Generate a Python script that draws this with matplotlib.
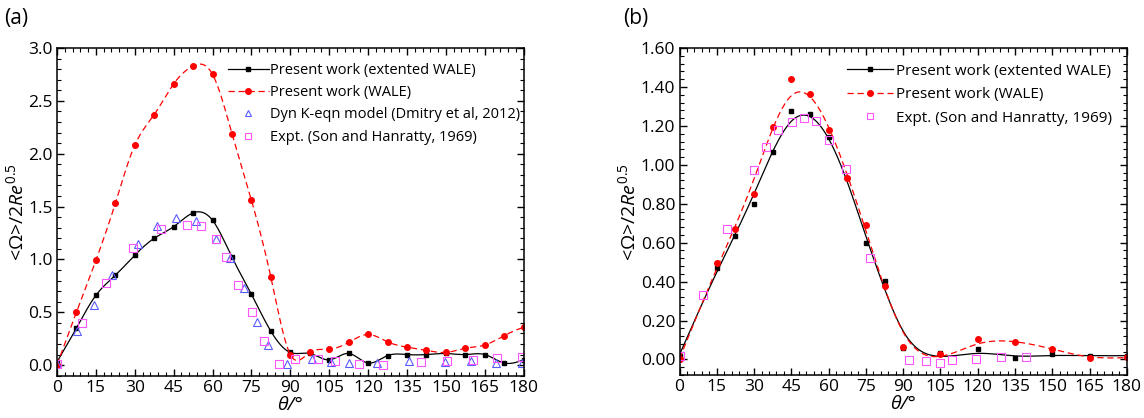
import matplotlib

matplotlib.use("Agg")

import matplotlib.pyplot as plt
import numpy as np
from matplotlib.ticker import MultipleLocator, FormatStrFormatter

plt.rcParams["font.family"] = ["Open Sans", "DejaVu Sans"]
plt.rcParams["mathtext.fontset"] = "custom"
plt.rcParams["mathtext.rm"] = "Open Sans"
plt.rcParams["mathtext.it"] = "Open Sans:italic"

# ---- panel (a) data ----
theta_a = [0, 7.5, 15, 22.5, 30, 37.5, 45, 52.5, 60, 67.5, 75, 82.5, 90,
           97.5, 105, 112.5, 120, 127.5, 135, 142.5, 150, 157.5, 165, 172.5, 180]
ext_wale_a = [0.03, 0.35, 0.66, 0.85, 1.04, 1.20, 1.31, 1.44, 1.37, 1.02, 0.67, 0.32, 0.12,
              0.11, 0.05, 0.11, 0.02, 0.09, 0.10, 0.10, 0.11, 0.10, 0.10, 0.02, 0.05]
wale_a = [0.0, 0.50, 0.99, 1.53, 2.08, 2.37, 2.66, 2.83, 2.75, 2.19, 1.56, 0.83, 0.10,
          0.12, 0.15, 0.215, 0.29, 0.22, 0.17, 0.14, 0.12, 0.16, 0.19, 0.28, 0.36]

dyn_theta = [0, 7.6, 14.4, 21.1, 31.1, 38.6, 45.8, 53.8, 61.5, 66.6, 72.0, 77.1, 81.5,
             88.9, 98.4, 105.5, 112.6, 123.3, 135.7, 149.5, 159.8, 169.5, 179.3]
dyn_val = [0.01, 0.32, 0.57, 0.85, 1.15, 1.32, 1.39, 1.36, 1.19, 1.01, 0.73, 0.41, 0.19,
           0.01, 0.06, 0.03, 0.02, 0.02, 0.04, 0.03, 0.035, 0.02, 0.02]

expt_theta_a = [0, 9.5, 18.9, 29.4, 40.0, 50.3, 55.4, 61.5, 65.3, 70.0, 75.1, 80.0, 85.7,
                91.9, 100.5, 107.4, 116.3, 125.7, 140.5, 150.6, 160.3, 169.8, 179.3]
expt_val_a = [0.01, 0.40, 0.78, 1.11, 1.29, 1.33, 1.32, 1.19, 1.02, 0.76, 0.50, 0.23, 0.01,
              0.06, 0.06, 0.04, 0.01, 0.0, 0.03, 0.04, 0.05, 0.07, 0.08]

# ---- panel (b) data ----
theta_b = [0, 15, 22.5, 30, 37.5, 45, 52.5, 60, 67.5, 75, 82.5, 90,
           105, 120, 135, 150, 165, 180]
ext_wale_b = [0.02, 0.47, 0.635, 0.80, 1.065, 1.278, 1.26, 1.145, 0.93, 0.60, 0.405, 0.06,
              0.035, 0.052, 0.005, 0.026, 0.017, 0.02]
wale_b = [0.0, 0.494, 0.672, 0.849, 1.197, 1.442, 1.364, 1.18, 0.935, 0.689, 0.375, 0.065,
          0.026, 0.103, 0.089, 0.055, 0.005, 0.013]

expt_theta_b = [0, 9.3, 19.0, 30.1, 34.8, 39.7, 45.1, 50.1, 54.9, 60.0, 66.9, 76.8,
                92.3, 99.1, 104.7, 109.5, 119.2, 129.5, 139.5]
expt_val_b = [0.02, 0.33, 0.67, 0.973, 1.094, 1.18, 1.22, 1.243, 1.226, 1.128, 0.978, 0.52,
              -0.004, -0.01, -0.02, -0.004, 0.003, 0.015, 0.015]


def smooth(x, y, lam, n=721):
    # penalised spline on a fine grid (small lam ~ interpolating)
    x = np.asarray(x, float)
    y = np.asarray(y, float)
    xs = np.linspace(x.min(), x.max(), n)
    B = np.zeros((len(x), n))
    for i, xi in enumerate(x):
        j = min(np.searchsorted(xs, xi, side="right") - 1, n - 2)
        w = (xi - xs[j]) / (xs[j + 1] - xs[j])
        B[i, j] = 1 - w
        B[i, j + 1] = w
    D = np.diff(np.eye(n), 2, axis=0)
    A = B.T @ B + lam * D.T @ D
    return xs, np.linalg.solve(A, B.T @ y)


fig = plt.figure(figsize=(11.44, 4.18), dpi=100)
ax1 = fig.add_axes([0.0498, 0.1012, 0.408, 0.784])
ax2 = fig.add_axes([0.594, 0.1029, 0.391, 0.782])

blue = "#5a5aff"
pink = "#ff55ff"


def style_axis(ax):
    for s in ax.spines.values():
        s.set_linewidth(1.1)
    ax.tick_params(which="both", direction="in", top=True, right=True, labelsize=12.5)
    ax.tick_params(which="major", length=5, width=1.0, pad=3)
    ax.tick_params(which="minor", length=3, width=0.8)
    ax.set_xlim(0, 180)
    ax.xaxis.set_major_locator(MultipleLocator(15))
    ax.xaxis.set_minor_locator(MultipleLocator(3))
    ax.set_xlabel("θ/°", style="italic", fontsize=14, labelpad=0)
    ax.set_ylabel(r"<Ω>/$\mathit{2Re}^{\mathit{0.5}}$", fontsize=14, labelpad=1)


# panel (a)
xs, ys = smooth(theta_a, ext_wale_a, 1e-3)
ax1.plot(xs, ys, color="black", lw=0.9)
ax1.plot(theta_a, ext_wale_a, "s", color="black", ms=3.5, ls="none")
xs, ys = smooth(theta_a, wale_a, 1e-3)
ax1.plot(xs, ys, color="red", lw=0.9, ls=(0, (5, 3)))
ax1.plot(theta_a, wale_a, "o", color="red", ms=4, ls="none")
ax1.plot(dyn_theta, dyn_val, "^", mfc="none", mec=blue, ms=6, mew=0.8, ls="none")
ax1.plot(expt_theta_a, expt_val_a, "s", mfc="none", mec=pink, ms=5.5, mew=0.8, ls="none")

h1 = [
    plt.Line2D([], [], color="black", lw=0.9, marker="s", ms=3.5),
    plt.Line2D([], [], color="red", lw=0.9, ls=(0, (5, 3)), marker="o", ms=4),
    plt.Line2D([], [], ls="none", marker="^", mfc="none", mec=blue, ms=5, mew=0.8),
    plt.Line2D([], [], ls="none", marker="s", mfc="none", mec=pink, ms=4.5, mew=0.8),
]
l1 = ["Present work (extented WALE)", "Present work (WALE)",
      "Dyn K-eqn model (Dmitry et al, 2012)", "Expt. (Son and Hanratty, 1969)"]
ax1.legend(h1, l1, loc="upper left", bbox_to_anchor=(0.366, 0.955), frameon=False,
           fontsize=10.5, handlelength=2.8, handletextpad=0.1, borderpad=0,
           borderaxespad=0, labelspacing=0.5)

style_axis(ax1)
ax1.set_ylim(-0.1, 3.0)
ax1.yaxis.set_major_locator(MultipleLocator(0.5))
ax1.yaxis.set_minor_locator(MultipleLocator(0.1))
ax1.yaxis.set_major_formatter(FormatStrFormatter("%.1f"))
fig.text(0.004, 0.955, "(a)", fontsize=15, va="center")

# panel (b) - smoothed fits
xs, ys = smooth(theta_b, ext_wale_b, 1.5e4)
ax2.plot(xs, ys, color="black", lw=0.9)
ax2.plot(theta_b, ext_wale_b, "s", color="black", ms=3.5, ls="none")
xs, ys = smooth(theta_b, wale_b, 1.5e4)
ax2.plot(xs, ys, color="red", lw=0.9, ls=(0, (5, 3)))
ax2.plot(theta_b, wale_b, "o", color="red", ms=4, ls="none")
ax2.plot(expt_theta_b, expt_val_b, "s", mfc="none", mec=pink, ms=5.5, mew=0.8, ls="none")

h2 = [h1[0], h1[1], h1[3]]
l2 = [l1[0], l1[1], l1[3]]
ax2.legend(h2, l2, loc="upper left", bbox_to_anchor=(0.375, 0.952), frameon=False,
           fontsize=11, handlelength=3.0, handletextpad=0.2, borderpad=0,
           borderaxespad=0, labelspacing=0.55)

style_axis(ax2)
ax2.set_ylim(-0.08, 1.6)
ax2.yaxis.set_major_locator(MultipleLocator(0.2))
ax2.yaxis.set_minor_locator(MultipleLocator(0.04))
ax2.yaxis.set_major_formatter(FormatStrFormatter("%.2f"))
fig.text(0.545, 0.955, "(b)", fontsize=15, va="center")

fig.savefig("out.png", dpi=100)
